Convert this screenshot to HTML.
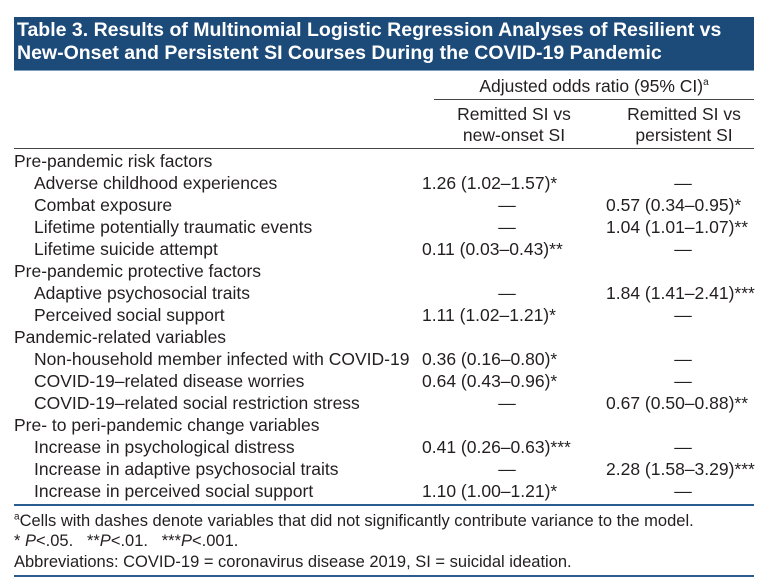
<!DOCTYPE html>
<html><head><meta charset="utf-8"><style>
body{margin:0;background:#fff;width:768px;height:588px;position:relative;overflow:hidden;font-family:"Liberation Sans Narrow","Liberation Sans",sans-serif;color:#231f20}
.hd{position:absolute;left:14px;top:17px;width:740px;height:53px;background:#1c4a79;border-bottom:1px solid #7fa0c0}
.hd div{position:absolute;left:3px;color:#fff;font-weight:bold;font-size:19.5px;white-space:nowrap}
.t{position:absolute;font-size:17.5px;white-space:nowrap;line-height:20px}
.f{font-size:16.5px}
.c{text-align:center}
.ln{position:absolute;height:1px;background:#444}
.bl{position:absolute;height:2px;background:#2a5c8f}
sup{font-size:10px;line-height:0}
</style></head><body>
<div class="hd"><div style="top:2px">Table 3. Results of Multinomial Logistic Regression Analyses of Resilient vs</div><div style="top:25px">New-Onset and Persistent SI Courses During the COVID-19 Pandemic</div></div>
<div class="t c" style="left:434px;width:320px;top:76px">Adjusted odds ratio (95% CI)<sup>a</sup></div>
<div class="ln" style="left:434px;width:320px;top:99px"></div>
<div class="t c" style="left:434px;width:160px;top:104px">Remitted SI vs</div>
<div class="t c" style="left:434px;width:160px;top:125px">new-onset SI</div>
<div class="t c" style="left:604px;width:160px;top:104px">Remitted SI vs</div>
<div class="t c" style="left:604px;width:160px;top:125px">persistent SI</div>
<div class="ln" style="left:14px;width:740px;top:148px"></div>

<div class="t" style="left:14px;top:151px">Pre-pandemic risk factors</div>
<div class="t" style="left:34px;top:173px">Adverse childhood experiences</div><div class="t" style="left:422px;top:173px">1.26 (1.02–1.57)*</div><div class="t c" style="left:643px;width:80px;top:173px">—</div>
<div class="t" style="left:34px;top:195px">Combat exposure</div><div class="t c" style="left:467px;width:80px;top:195px">—</div><div class="t" style="left:606px;top:195px">0.57 (0.34–0.95)*</div>
<div class="t" style="left:34px;top:217px">Lifetime potentially traumatic events</div><div class="t c" style="left:467px;width:80px;top:217px">—</div><div class="t" style="left:606px;top:217px">1.04 (1.01–1.07)**</div>
<div class="t" style="left:34px;top:239px">Lifetime suicide attempt</div><div class="t" style="left:422px;top:239px">0.11 (0.03–0.43)**</div><div class="t c" style="left:643px;width:80px;top:239px">—</div>
<div class="t" style="left:14px;top:261px">Pre-pandemic protective factors</div>
<div class="t" style="left:34px;top:283px">Adaptive psychosocial traits</div><div class="t c" style="left:467px;width:80px;top:283px">—</div><div class="t" style="left:606px;top:283px">1.84 (1.41–2.41)***</div>
<div class="t" style="left:34px;top:305px">Perceived social support</div><div class="t" style="left:422px;top:305px">1.11 (1.02–1.21)*</div><div class="t c" style="left:643px;width:80px;top:305px">—</div>
<div class="t" style="left:14px;top:327px">Pandemic-related variables</div>
<div class="t" style="left:34px;top:349px">Non-household member infected with COVID-19</div><div class="t" style="left:422px;top:349px">0.36 (0.16–0.80)*</div><div class="t c" style="left:643px;width:80px;top:349px">—</div>
<div class="t" style="left:34px;top:371px">COVID-19–related disease worries</div><div class="t" style="left:422px;top:371px">0.64 (0.43–0.96)*</div><div class="t c" style="left:643px;width:80px;top:371px">—</div>
<div class="t" style="left:34px;top:393px">COVID-19–related social restriction stress</div><div class="t c" style="left:467px;width:80px;top:393px">—</div><div class="t" style="left:606px;top:393px">0.67 (0.50–0.88)**</div>
<div class="t" style="left:14px;top:415px">Pre- to peri-pandemic change variables</div>
<div class="t" style="left:34px;top:437px">Increase in psychological distress</div><div class="t" style="left:422px;top:437px">0.41 (0.26–0.63)***</div><div class="t c" style="left:643px;width:80px;top:437px">—</div>
<div class="t" style="left:34px;top:459px">Increase in adaptive psychosocial traits</div><div class="t c" style="left:467px;width:80px;top:459px">—</div><div class="t" style="left:606px;top:459px">2.28 (1.58–3.29)***</div>
<div class="t" style="left:34px;top:481px">Increase in perceived social support</div><div class="t" style="left:422px;top:481px">1.10 (1.00–1.21)*</div><div class="t c" style="left:643px;width:80px;top:481px">—</div>
<div class="bl" style="left:14px;width:740px;top:504px"></div>
<div class="t f" style="left:14px;top:511px"><sup>a</sup>Cells with dashes denote variables that did not significantly contribute variance to the model.</div>
<div class="t f" style="left:14px;top:531px">* <i>P</i>&lt;.05. &nbsp; **<i>P</i>&lt;.01. &nbsp; ***<i>P</i>&lt;.001.</div>
<div class="t f" style="left:14px;top:552px">Abbreviations: COVID-19 = coronavirus disease 2019, SI = suicidal ideation.</div>
<div class="bl" style="left:14px;width:740px;top:575px"></div>
</body></html>
